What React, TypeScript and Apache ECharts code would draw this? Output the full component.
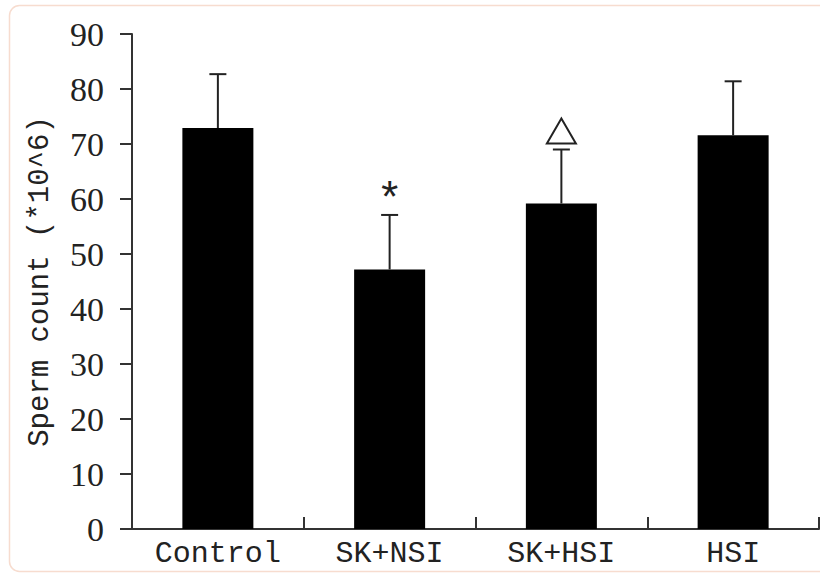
import React, { useEffect, useRef } from "react";
import * as echarts from "echarts";

const categories = ["Control", "SK+NSI", "SK+HSI", "HSI"];
const means = [72.9, 47.2, 59.2, 71.6];
const upperErrors = [82.7, 57.1, 69.0, 81.4];
const markers = ["", "*", "△", ""];
const yTicks = { min: 0, max: 90, interval: 10 };

export default function App() {
  const ref = useRef<HTMLDivElement>(null);
  useEffect(() => {
    if (!ref.current) return;
    const chart = echarts.init(ref.current, null, { renderer: "svg" });
    const errData = categories.map((_, i) => [i, means[i], upperErrors[i]]);
    const markData = categories.map((_, i) => [i, upperErrors[i], markers[i]]);
    chart.setOption({
      animation: false,
      backgroundColor: "#ffffff",
      graphic: [
        {
          type: "rect",
          shape: { x: 9.5, y: 5.5, width: 830, height: 566, r: 10 },
          style: { fill: "none", stroke: "#f7dccf", lineWidth: 1.5 },
          z: -1,
        },
      ],
      grid: { left: 132, right: 1, top: 34, bottom: 49 },
      xAxis: {
        type: "category",
        data: categories,
        boundaryGap: true,
        axisLine: { show: true, lineStyle: { color: "#333", width: 2 } },
        axisTick: { show: true, inside: true, length: 12, lineStyle: { color: "#333", width: 2 } },
        axisLabel: {
          fontFamily: "Liberation Mono",
          fontSize: 30,
          color: "#222",
          margin: 10,
        },
      },
      yAxis: {
        type: "value",
        min: yTicks.min,
        max: yTicks.max,
        interval: yTicks.interval,
        name: "Sperm count (*10^6)",
        nameLocation: "middle",
        nameGap: 77,
        nameTextStyle: { fontFamily: "Liberation Mono", fontSize: 29, color: "#222" },
        axisLine: { show: true, lineStyle: { color: "#333", width: 2 } },
        axisTick: { show: true, inside: false, length: 12, lineStyle: { color: "#333", width: 2 } },
        splitLine: { show: false },
        axisLabel: {
          fontFamily: "Liberation Serif",
          fontSize: 34,
          color: "#222",
          margin: 28,
        },
      },
      series: [
        {
          type: "bar",
          data: means,
          barWidth: 71,
          itemStyle: { color: "#000" },
          z: 3,
        },
        {
          type: "custom",
          data: errData,
          z: 2,
          renderItem: (params: any, api: any) => {
            const i = api.value(0);
            const top = api.coord([i, api.value(2)]);
            const base = api.coord([i, api.value(1)]);
            const style = { stroke: "#222", lineWidth: 2 };
            return {
              type: "group",
              children: [
                { type: "line", shape: { x1: top[0], y1: top[1], x2: base[0], y2: base[1] }, style },
                { type: "line", shape: { x1: top[0] - 8.5, y1: top[1], x2: top[0] + 8.5, y2: top[1] }, style },
              ],
            };
          },
        },
        {
          type: "custom",
          data: markData,
          z: 4,
          renderItem: (params: any, api: any) => {
            const idx = params.dataIndex;
            const m = markers[idx];
            const p = api.coord([api.value(0), api.value(1)]);
            if (m === "*") {
              return {
                type: "text",
                style: {
                  text: "*",
                  x: p[0],
                  y: p[1] + 8,
                  align: "center",
                  verticalAlign: "bottom",
                  fontFamily: "Liberation Mono",
                  fontSize: 44,
                  fill: "#222",
                },
              };
            }
            if (m === "△") {
              return {
                type: "polygon",
                shape: {
                  points: [
                    [p[0], p[1] - 31],
                    [p[0] - 14.5, p[1] - 6],
                    [p[0] + 14.5, p[1] - 6],
                  ],
                },
                style: { fill: "none", stroke: "#222", lineWidth: 2 },
              };
            }
            return null;
          },
        },
      ],
    });
    return () => chart.dispose();
  }, []);
  return (
    <div
      ref={ref}
      style={{ position: "fixed", left: 0, top: 0, width: 820, height: 578, background: "#fff" }}
    />
  );
}
